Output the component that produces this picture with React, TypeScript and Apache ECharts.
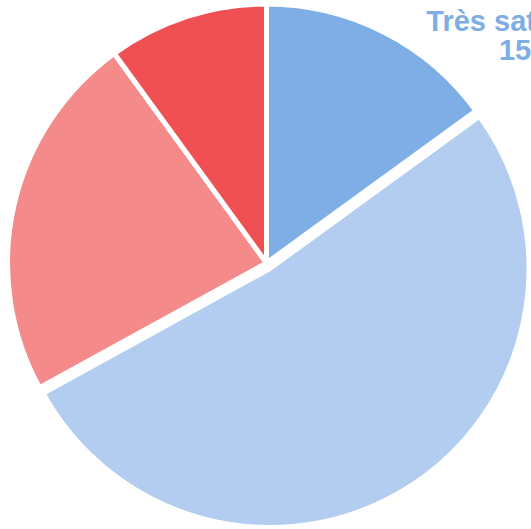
import React, { useEffect, useRef } from "react";
import * as echarts from "echarts";

const categories = ["Très satisfait", "Satisfait", "Peu satisfait", "Pas satisfait"];
const values = [15, 52, 23, 10];
const colors = ["#7EAEE5", "#B2CDF0", "#F48A8A", "#F05052"];
const explodedIndex = 1;
const labelledIndex = 0;

export default function App() {
  const ref = useRef<HTMLDivElement>(null);
  useEffect(() => {
    if (!ref.current) return;
    const chart = echarts.init(ref.current, null, { renderer: "svg" });
    const data = categories.map((name, i) => ({
      name,
      value: values[i],
      selected: i === explodedIndex,
      itemStyle: { color: colors[i] },
      label: {
        show: i === labelledIndex,
        color: colors[i],
      },
    }));
    chart.setOption({
      animation: false,
      series: [
        {
          type: "pie",
          center: [266.5, 263],
          radius: 259,
          startAngle: 90,
          clockwise: true,
          selectedMode: "multiple",
          selectedOffset: 6.5,
          avoidLabelOverlap: false,
          itemStyle: { borderColor: "#ffffff", borderWidth: 5 },
          label: {
            formatter: "{b}\n{c}",
            fontFamily: "Liberation Sans, Arial, sans-serif",
            fontWeight: "bold",
            fontSize: 29,
            lineHeight: 29,
            align: "center",
          },
          labelLine: { show: false },
          labelLayout: (params: any) =>
            params.dataIndex === labelledIndex
              ? { x: 515, y: 35, align: "center", verticalAlign: "middle" }
              : {},
          emphasis: { disabled: true },
          data,
        },
      ],
    });
    return () => chart.dispose();
  }, []);
  return (
    <div
      ref={ref}
      style={{ position: "fixed", left: 0, top: 0, width: 531, height: 529, overflow: "hidden", background: "#fff" }}
    />
  );
}
